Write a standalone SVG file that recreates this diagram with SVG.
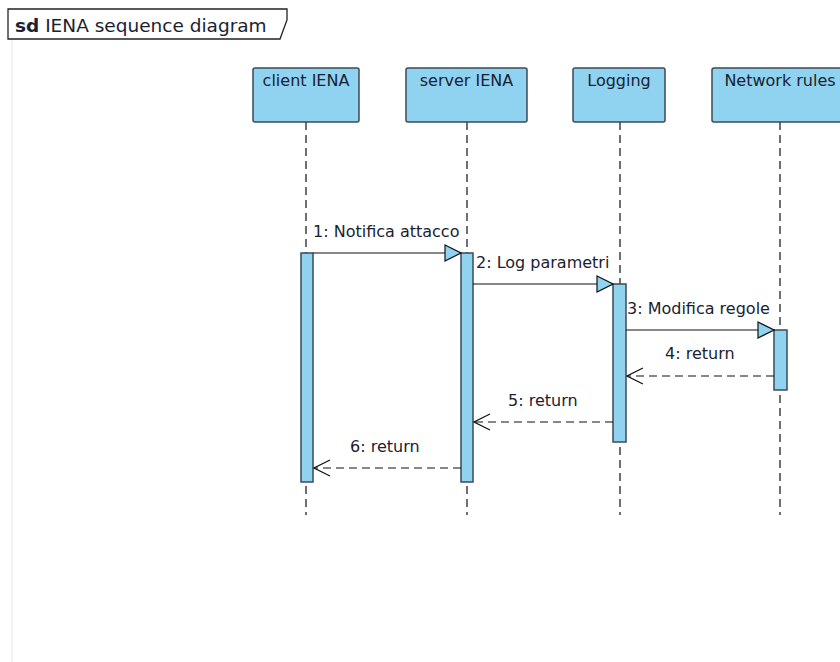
<svg xmlns="http://www.w3.org/2000/svg" width="840" height="662" viewBox="0 0 840 662">
  <style>
    text { font-family: "DejaVu Sans", "Liberation Sans", sans-serif; fill: #1a2230; }
    .head { fill: #8fd3f1; stroke: #3d4a55; stroke-width: 1.5; }
    .head-label { font-size: 16px; text-anchor: middle; }
    .lifeline { stroke: #111; stroke-width: 1.2; stroke-dasharray: 8 5; fill: none; }
    .bar { fill: #8fd3f1; stroke: #3d4a55; stroke-width: 1.5; }
    .call { stroke: #111; stroke-width: 1.2; fill: none; }
    .ret { stroke: #111; stroke-width: 1.2; stroke-dasharray: 8 5; fill: none; }
    .msg { font-size: 16px; }
  </style>
  <defs>
    <marker id="callHead" markerWidth="18" markerHeight="18" refX="17" refY="9" orient="auto" markerUnits="userSpaceOnUse">
      <path d="M1,1 L17,9 L1,17 Z" fill="#8fd3f1" stroke="#111" stroke-width="1.2"/>
    </marker>
    <marker id="retHead" markerWidth="18" markerHeight="18" refX="17" refY="9" orient="auto" markerUnits="userSpaceOnUse">
      <path d="M1,1 L17,9 L1,17" fill="none" stroke="#111" stroke-width="1.2"/>
    </marker>
  </defs>

  <rect width="840" height="662" fill="#ffffff"/>

  <!-- frame -->
  <line x1="12" y1="39" x2="12" y2="662" stroke="#e6e6e6" stroke-width="1"/>
  <g id="frame-title">
    <path d="M8,9 L287,9 L287,20 L280,39 L8,39 Z" fill="#ffffff" stroke="#222" stroke-width="1.3"/>
    <text x="15" y="32" font-size="18.5"><tspan font-weight="bold">sd</tspan> IENA sequence diagram</text>
  </g>

  <!-- lifelines -->
  <g id="client">
    <line class="lifeline" x1="306" y1="122" x2="306" y2="515"/>
    <rect class="head" x="253" y="68" width="106" height="54" rx="2"/>
    <text class="head-label" x="306" y="86">client IENA</text>
    <rect class="bar" x="301" y="253" width="12" height="229"/>
  </g>
  <g id="server">
    <line class="lifeline" x1="467" y1="122" x2="467" y2="515"/>
    <rect class="head" x="406" y="68" width="121" height="54" rx="2"/>
    <text class="head-label" x="466.5" y="86">server IENA</text>
    <rect class="bar" x="461" y="253" width="12" height="229"/>
  </g>
  <g id="logging">
    <line class="lifeline" x1="620" y1="122" x2="620" y2="515"/>
    <rect class="head" x="573" y="68" width="92" height="54" rx="2"/>
    <text class="head-label" x="619" y="86">Logging</text>
    <rect class="bar" x="613" y="284" width="13" height="158"/>
  </g>
  <g id="network-rules">
    <line class="lifeline" x1="780" y1="122" x2="780" y2="515"/>
    <rect class="head" x="712" y="68" width="140" height="54" rx="2"/>
    <text class="head-label" x="780" y="86">Network rules</text>
    <rect class="bar" x="774" y="330" width="13" height="60"/>
  </g>

  <!-- messages -->
  <g id="messages">
    <line class="call" x1="313" y1="253" x2="461" y2="253" marker-end="url(#callHead)"/>
    <text class="msg" x="313" y="237">1: Notifica attacco</text>

    <line class="call" x1="473" y1="284" x2="613" y2="284" marker-end="url(#callHead)"/>
    <text class="msg" x="476" y="268">2: Log parametri</text>

    <line class="call" x1="626" y1="330" x2="774" y2="330" marker-end="url(#callHead)"/>
    <text class="msg" x="627" y="314">3: Modifica regole</text>

    <line class="ret" x1="774" y1="376" x2="627" y2="376" marker-end="url(#retHead)"/>
    <text class="msg" x="665" y="359">4: return</text>

    <line class="ret" x1="613" y1="422" x2="474" y2="422" marker-end="url(#retHead)"/>
    <text class="msg" x="508" y="406">5: return</text>

    <line class="ret" x1="461" y1="468" x2="314" y2="468" marker-end="url(#retHead)"/>
    <text class="msg" x="350" y="452">6: return</text>
  </g>
</svg>
